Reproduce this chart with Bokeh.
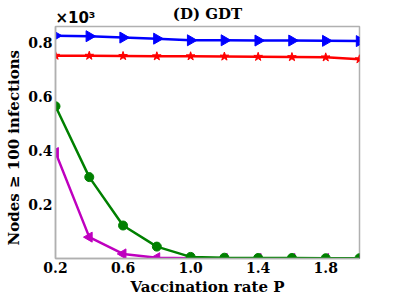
from bokeh.plotting import figure
from bokeh.models import LinearAxis, FixedTicker, PrintfTickFormatter
from bokeh.embed import file_html
from bokeh.resources import INLINE

p_rate = [0.2, 0.4, 0.6, 0.8, 1.0, 1.2, 1.4, 1.6, 1.8, 2.0]
blue_vals = [0.824, 0.822, 0.817, 0.813, 0.807, 0.807, 0.806, 0.806, 0.805, 0.804]
red_vals = [0.750, 0.750, 0.749, 0.748, 0.748, 0.747, 0.746, 0.745, 0.744, 0.737]
green_vals = [0.563, 0.301, 0.122, 0.044, 0.006, 0.003, 0.002, 0.002, 0.001, 0.001]
magenta_vals = [0.392, 0.079, 0.017, 0.003, 0.001, 0.0, 0.0, 0.0, 0.0, 0.0]
x_ticks = [0.2, 0.6, 1.0, 1.4, 1.8]
y_ticks = [0.2, 0.4, 0.6, 0.8]
title_text = "(D) GDT"
scale_text = "\u00d710\u00b3"
scale_text_x = 0.318  # label anchor (centre) along x for the exponent text

SERIF = "DejaVu Serif"

p = figure(width=392, height=298, output_backend="svg", toolbar_location=None,
           x_range=(0.2, 2.0), y_range=(0.0, 0.858),
           min_border_left=55, min_border_right=33, min_border_top=26, min_border_bottom=38)

p.line(p_rate, blue_vals, color="#0000ff", line_width=2.5)
p.scatter(p_rate, blue_vals, marker="triangle", angle=-1.5708, size=11, color="#0000ff")
p.line(p_rate, red_vals, color="#ff0000", line_width=2.5)
p.scatter(p_rate, red_vals, marker="star", size=9, color="#ff0000")
p.line(p_rate, magenta_vals, color="#bf00bf", line_width=2.5)
p.scatter(p_rate, magenta_vals, marker="triangle", angle=1.5708, size=10, color="#bf00bf")
p.line(p_rate, green_vals, color="#008000", line_width=2.5)
p.scatter(p_rate, green_vals, marker="circle", size=9, color="#008000")

p.grid.visible = False
p.outline_line_color = "#b0b0b0"
p.outline_line_width = 1.5

bottom_axis = p.below[0]
left_axis = p.left[0]

for ax in (bottom_axis, left_axis):
    ax.axis_line_color = "#b0b0b0"
    ax.axis_line_width = 1.5
    ax.major_tick_line_color = None
    ax.minor_tick_line_color = None
    ax.major_tick_out = 0
    ax.major_tick_in = 0
    ax.minor_tick_out = 0
    ax.minor_tick_in = 0
    ax.major_label_text_font = SERIF
    ax.major_label_text_font_style = "bold"
    ax.major_label_text_font_size = "14px"
    ax.major_label_text_color = "black"
    ax.axis_label_text_font = SERIF
    ax.axis_label_text_font_style = "bold"
    ax.axis_label_text_font_size = "15px"
    ax.axis_label_text_color = "black"
    ax.major_label_standoff = 3
    ax.axis_label_standoff = 2

bottom_axis.ticker = FixedTicker(ticks=x_ticks)
left_axis.ticker = FixedTicker(ticks=y_ticks)
bottom_axis.formatter = PrintfTickFormatter(format="%.1f")
left_axis.formatter = PrintfTickFormatter(format="%.1f")
bottom_axis.axis_label = "Vaccination rate P"
left_axis.axis_label = "Nodes  \u2265  100 infections"

# top axis carries the exponent text (as its only tick label) and the panel title (as its axis label)
top_axis = LinearAxis(ticker=FixedTicker(ticks=[scale_text_x]),
                      major_label_overrides={scale_text_x: scale_text},
                      axis_label=title_text)
top_axis.axis_line_color = None
top_axis.major_tick_line_color = None
top_axis.minor_tick_line_color = None
top_axis.major_tick_out = 0
top_axis.major_tick_in = 0
top_axis.minor_tick_out = 0
top_axis.minor_tick_in = 0
top_axis.major_label_text_font = "DejaVu Sans"
top_axis.major_label_text_font_style = "bold"
top_axis.major_label_text_font_size = "15px"
top_axis.major_label_text_color = "black"
top_axis.major_label_standoff = 0
top_axis.axis_label_text_font = SERIF
top_axis.axis_label_text_font_style = "bold"
top_axis.axis_label_text_font_size = "15px"
top_axis.axis_label_text_color = "black"
top_axis.axis_label_standoff = -17
p.add_layout(top_axis, "above")

open("out.html", "w").write(file_html(p, INLINE))
